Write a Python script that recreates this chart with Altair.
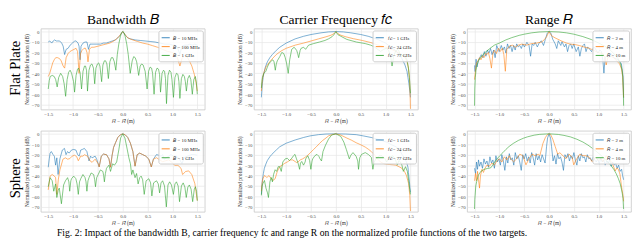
import altair as alt
import pandas as pd

COLORS = ["#1f77b4", "#ff7f0e", "#2ca02c"]
LEG_B = ["𝐵 = 10 MHz", "𝐵 = 100 MHz", "𝐵 = 1 GHz"]
LEG_F = ["𝑓𝑐 = 1 GHz", "𝑓𝑐 = 24 GHz", "𝑓𝑐 = 77 GHz"]
LEG_R = ["𝑅 = 2 m", "𝑅 = 4 m", "𝑅 = 10 m"]
COL_TITLES = ["Bandwidth 𝐵", "Carrier Frequency 𝑓𝑐", "Range 𝑅"]
ROW_TITLES = ["Flat Plate", "Sphere"]
X_TICKS = [-1.5, -1.0, -0.5, 0.0, 0.5, 1.0, 1.5]
Y_TICKS = [0, -10, -20, -30, -40, -50, -60, -70]
CAPTION = ("Fig. 2: Impact of the bandwidth B, carrier frequency fc and range R on the "
           "normalized profile functions of the two targets.")

# ---------------- Flat plate, bandwidth ----------------
FP_B_BLUE = [(-1.5,-10),(-1.47,-9),(-1.43,-11),(-1.4,-9),(-1.37,-8),(-1.34,-9),(-1.31,-9),(-1.27,-9),
             (-1.23,-11),(-1.2,-14),(-1.17,-22),(-1.14,-17),(-1.1,-16),(-1.06,-13),(-1.01,-11),(-0.97,-9),
             (-0.94,-9),(-0.9,-11),(-0.88,-14),(-0.86,-27),(-0.84,-14),(-0.8,-11),(-0.76,-10),(-0.72,-10),
             (-0.69,-17),(-0.66,-12),(-0.62,-12),(-0.58,-12),(-0.52,-12),(-0.45,-12),(-0.39,-11),(-0.33,-11),
             (-0.27,-10),(-0.21,-9),(-0.15,-8),(-0.1,-6),(-0.06,-4),(-0.03,-2),(0,0),(0.03,-2),(0.06,-4),
             (0.1,-6),(0.15,-7),(0.25,-8),(0.35,-8.5),(0.45,-9),(0.55,-9.5),(0.65,-10),(0.75,-11),(0.85,-12),
             (0.95,-12),(1.0,-13),(1.05,-13),(1.1,-15),(1.15,-22),(1.19,-14),(1.25,-13),(1.3,-13),(1.35,-12),
             (1.4,-13),(1.45,-12),(1.5,-13)]
FP_B_ORANGE = [(-1.5,-43),(-1.47,-40),(-1.44,-35),(-1.41,-30),(-1.38,-27),(-1.35,-25),(-1.31,-25),(-1.27,-26),
               (-1.24,-28),(-1.2,-33),(-1.17,-35),(-1.14,-25),(-1.1,-21),(-1.06,-19),(-1.02,-18),(-0.98,-17),
               (-0.94,-16),(-0.91,-19),(-0.88,-40),(-0.85,-21),(-0.82,-18),(-0.78,-16),(-0.75,-16),(-0.72,-20),
               (-0.7,-29),(-0.67,-17),(-0.63,-15),(-0.58,-15),(-0.5,-14),(-0.42,-13),(-0.34,-12),(-0.26,-11),
               (-0.18,-9),(-0.1,-6),(-0.05,-3),(0,0),(0.05,-3),(0.1,-6),(0.2,-8),(0.3,-9.5),(0.4,-11),(0.5,-12),
               (0.6,-13.5),(0.7,-15),(0.8,-17),(0.9,-19),(1.0,-20),(1.05,-22),(1.1,-25),(1.15,-33),(1.19,-26),
               (1.24,-23),(1.29,-24),(1.34,-28),(1.39,-33),(1.44,-41),(1.48,-50),(1.5,-57)]
FP_B_GREEN = [(-1.5,-55),(-1.48,-47),(-1.46,-43),(-1.42,-42),(-1.38,-43),(-1.35,-46),(-1.32,-53),(-1.29,-44),
              (-1.25,-40),(-1.21,-43),(-1.18,-50),(-1.15,-62),(-1.12,-46),(-1.09,-39),(-1.06,-37),(-1.03,-40),
              (-0.99,-48),(-0.97,-58),(-0.94,-42),(-0.91,-36),(-0.89,-35),(-0.86,-39),(-0.83,-55),(-0.8,-38),
              (-0.77,-33),(-0.75,-33),(-0.73,-37),(-0.71,-57),(-0.68,-37),(-0.65,-32),(-0.62,-31),(-0.59,-35),
              (-0.565,-50),(-0.54,-35),(-0.51,-31),(-0.486,-30),(-0.46,-33),(-0.425,-48),(-0.4,-32),(-0.37,-28),
              (-0.346,-28),(-0.32,-31),(-0.29,-45),(-0.26,-29),(-0.23,-25),(-0.2,-25),(-0.17,-29),(-0.14,-37),
              (-0.11,-22),(-0.08,-12),(-0.05,-5),(-0.025,-1),(0,0),(0.025,-1),(0.05,-5),(0.08,-12),(0.11,-22),
              (0.15,-40),(0.19,-28),(0.22,-24),(0.25,-25),(0.28,-29),(0.32,-42),(0.35,-33),(0.38,-31),(0.41,-32),
              (0.45,-38),(0.49,-55),(0.52,-38),(0.55,-34),(0.58,-35),(0.6,-40),(0.63,-60),(0.66,-39),(0.69,-35),
              (0.72,-36),(0.74,-41),(0.76,-58),(0.79,-40),(0.82,-37),(0.84,-38),(0.86,-45),(0.88,-69),(0.91,-42),
              (0.94,-37),(0.97,-39),(0.99,-46),(1.02,-63),(1.05,-44),(1.08,-40),(1.11,-41),(1.13,-48),(1.15,-64),
              (1.18,-45),(1.21,-41),(1.24,-43),(1.26,-48),(1.28,-57),(1.31,-45),(1.34,-42),(1.37,-46),(1.4,-60),
              (1.43,-46),(1.46,-43),(1.48,-48),(1.5,-60)]

# ---------------- Flat plate, carrier frequency ----------------
FP_F_BLUE = [(-1.5,-63),(-1.49,-56),(-1.48,-50),(-1.465,-44),(-1.45,-40),(-1.42,-34),(-1.38,-29),(-1.33,-25),
             (-1.28,-22),(-1.2,-18),(-1.13,-15),(-1.0,-11),(-0.82,-7),(-0.65,-4.5),(-0.5,-2.8),(-0.3,-1.2),
             (-0.15,-0.3),(0,0),(0.15,-0.3),(0.3,-1.2),(0.5,-2.8),(0.65,-4.5),(0.84,-7.5),(1.0,-11),(1.08,-14),
             (1.2,-18),(1.27,-22),(1.33,-26),(1.39,-32),(1.43,-38),(1.45,-44),(1.47,-50),(1.49,-58),(1.5,-63)]
FP_F_ORANGE = [(-1.5,-57),(-1.49,-51),(-1.48,-46),(-1.46,-41),(-1.44,-38),(-1.41,-34),(-1.38,-32),(-1.3,-27),
               (-1.2,-22),(-1.1,-18.5),(-1.0,-16),(-0.82,-13),(-0.65,-11),(-0.5,-9),(-0.35,-7),(-0.2,-5),
               (-0.1,-3.5),(-0.04,-2),(0,0),(0.04,-2),(0.1,-3.5),(0.2,-5),(0.35,-6.8),(0.53,-8.5),(0.7,-10.5),
               (0.84,-12.8),(1.0,-15),(1.14,-17.5),(1.25,-20),(1.33,-22.5),(1.39,-25),(1.43,-28),(1.46,-35),
               (1.48,-45),(1.49,-55),(1.5,-74)]
FP_F_GREEN = [(-1.5,-54),(-1.49,-48),(-1.48,-44),(-1.45,-40),(-1.41,-38),(-1.38,-34),(-1.35,-31),(-1.32,-29),
              (-1.27,-27),(-1.245,-29),(-1.22,-37),(-1.2,-31),(-1.18,-28),(-1.13,-24),(-1.09,-20),(-1.05,-21),
              (-1.02,-25),(-0.99,-31),(-0.96,-40),(-0.93,-27),(-0.89,-17),(-0.84,-15),(-0.79,-18),(-0.77,-21),
              (-0.75,-25),(-0.72,-18),(-0.7,-16),(-0.65,-15),(-0.61,-17),(-0.58,-15),(-0.55,-13),(-0.45,-11.5),
              (-0.33,-10),(-0.22,-8.5),(-0.15,-7),(-0.08,-5),(-0.04,-3),(0,0),(0.04,-3),(0.1,-4.5),(0.22,-7.5),
              (0.41,-10),(0.59,-11.5),(0.7,-13),(0.77,-14.5),(0.84,-17),(0.9,-19),(0.96,-17),(1.02,-16),
              (1.06,-18),(1.1,-23),(1.13,-33),(1.16,-24),(1.2,-19),(1.24,-17),(1.27,-19),(1.31,-24),(1.36,-22),
              (1.4,-24),(1.43,-27),(1.46,-35),(1.48,-44),(1.5,-59)]

# ---------------- Flat plate, range ----------------
FP_R_BLUE = [(-1.5,-32.4),(-1.488,-38.3),(-1.469,-26.5),(-1.45,-33.9),(-1.426,-28),(-1.395,-25),(-1.364,-22.1),
             (-1.333,-25),(-1.302,-19.2),(-1.271,-23.6),(-1.24,-17.7),(-1.209,-20.6),(-1.178,-16.2),(-1.147,-22.1),
             (-1.116,-17.7),(-1.085,-25),(-1.054,-13.3),(-1.004,-19.2),(-0.961,-13.3),(-0.93,-17.7),(-0.899,-14.7),
             (-0.868,-20.6),(-0.837,-11.8),(-0.806,-16.2),(-0.775,-13.3),(-0.744,-19.2),(-0.713,-13.3),
             (-0.682,-17.7),(-0.651,-11.8),(-0.62,-14.7),(-0.589,-13.3),(-0.558,-16.2),(-0.527,-11.8),
             (-0.496,-14.7),(-0.446,-10.3),(-0.403,-13.3),(-0.372,-23.6),(-0.341,-11.8),(-0.31,-13.3),
             (-0.279,-10.3),(-0.236,-14.7),(-0.198,-10.9),(-0.155,-8.8),(-0.112,-13.3),(-0.074,-7.4),
             (-0.037,-1.5),(0,0),(0.037,-1.5),(0.074,-7.4),(0.124,-11.8),(0.155,-16.2),(0.186,-8.8),
             (0.236,-13.3),(0.26,-9.7),(0.31,-14.7),(0.341,-11.8),(0.372,-19.2),(0.403,-13.3),(0.434,-11.8),
             (0.465,-16.2),(0.496,-11.8),(0.546,-19.2),(0.589,-14.7),(0.62,-23.6),(0.651,-16.2),(0.682,-13.3),
             (0.713,-11.8),(0.744,-19.2),(0.775,-14.7),(0.806,-16.2),(0.856,-19.2),(0.899,-14.7),(0.93,-16.2),
             (0.98,-20.6),(1.023,-17.7),(1.054,-19.2),(1.085,-28),(1.104,-39.8),(1.128,-25),(1.178,-22.1),
             (1.24,-20.6),(1.302,-25),(1.364,-26.5),(1.413,-28),(1.457,-31),(1.488,-42.8),(1.5,-63.4)]
FP_R_ORANGE = [(-1.5,-46),(-1.48,-37),(-1.46,-30),(-1.43,-28),(-1.4,-25),(-1.37,-27),(-1.34,-23),(-1.31,-25),
               (-1.28,-21),(-1.25,-22),(-1.22,-20),(-1.19,-26),(-1.16,-35),(-1.13,-21),(-1.1,-18),(-1.06,-21),
               (-1.02,-16),(-0.98,-19),(-0.94,-16),(-0.91,-22),(-0.88,-38),(-0.85,-17),(-0.8,-14),(-0.74,-13),
               (-0.68,-15),(-0.62,-13),(-0.55,-12),(-0.45,-13),(-0.35,-11.5),(-0.25,-11),(-0.15,-10),(-0.1,-8),
               (-0.05,-5),(0,0),(0.05,-4),(0.12,-6),(0.25,-9),(0.35,-11),(0.43,-12),(0.53,-12.5),(0.62,-13.5),
               (0.72,-15),(0.81,-16),(0.9,-18),(0.96,-19.5),(1.02,-20.5),(1.08,-21),(1.12,-24),(1.15,-32),
               (1.18,-25),(1.24,-23.6),(1.3,-25),(1.36,-28),(1.42,-31),(1.46,-36),(1.48,-43),(1.5,-63)]
FP_R_GREEN = [(-1.5,-71),(-1.495,-55),(-1.485,-44),(-1.47,-37),(-1.45,-32),(-1.42,-28),(-1.38,-25),(-1.3,-20.5),
              (-1.2,-16.5),(-1.1,-13),(-1.0,-11),(-0.87,-8),(-0.75,-5.8),(-0.6,-3.6),(-0.5,-2.5),(-0.35,-1.2),
              (-0.2,-0.4),(0,0),(0.2,-0.4),(0.35,-1.2),(0.5,-2.5),(0.68,-4.8),(0.85,-7.6),(1.0,-11),(1.12,-14),
              (1.24,-18),(1.32,-22),(1.39,-26),(1.44,-31),(1.47,-37),(1.485,-44),(1.495,-55),(1.5,-71)]

# ---------------- Sphere, bandwidth ----------------
SP_B_BLUE = [(-1.5,-32),(-1.48,-24),(-1.463,-18.5),(-1.438,-17),(-1.401,-20),(-1.377,-21.4),(-1.352,-30),
             (-1.327,-23),(-1.302,-39),(-1.265,-24),(-1.216,-15.5),(-1.173,-14),(-1.142,-20),(-1.111,-17),
             (-1.08,-18.5),(-1.031,-15.5),(-0.988,-15),(-0.944,-15.5),(-0.907,-20),(-0.877,-21.4),(-0.846,-15.5),
             (-0.815,-15),(-0.772,-14),(-0.722,-17),(-0.679,-26),(-0.648,-21.4),(-0.617,-23),(-0.556,-21.4),
             (-0.525,-24.3),(-0.475,-31.7),(-0.432,-21.4),(-0.389,-19.4),(-0.327,-20),(-0.278,-24),(-0.247,-32),
             (-0.216,-21),(-0.185,-13),(-0.146,-8.5),(-0.1,-3.5),(-0.05,-1),(0,0),(0.05,-1),(0.1,-3.5),
             (0.154,-9),(0.204,-17),(0.247,-31),(0.29,-20),(0.34,-18.5),(0.401,-19.9),(0.463,-21.4),
             (0.525,-24.3),(0.574,-31.7),(0.617,-24.3),(0.679,-19.9),(0.741,-20.8),(0.772,-21.4),(0.802,-19.9),
             (0.833,-24.3),(0.883,-22.9),(0.926,-21.4),(0.969,-19.9),(1.019,-21.4),(1.08,-21.4),(1.142,-24.3),
             (1.191,-28.7),(1.235,-22.9),(1.296,-21.4),(1.389,-19.9),(1.45,-20),(1.5,-20.5)]
SP_B_ORANGE = [(-1.5,-53.7),(-1.463,-40.5),(-1.42,-39),(-1.377,-40.5),(-1.352,-42),(-1.327,-58),(-1.296,-43.4),
               (-1.265,-34.6),(-1.204,-24.3),(-1.154,-23),(-1.111,-24.3),(-1.068,-23.8),(-1.019,-21.4),
               (-0.969,-20.5),(-0.926,-22),(-0.895,-25.8),(-0.846,-21.4),(-0.802,-21.4),(-0.772,-20),
               (-0.71,-21.4),(-0.66,-25.8),(-0.617,-27.3),(-0.556,-24.3),(-0.494,-28.7),(-0.475,-31.7),
               (-0.432,-21.4),(-0.389,-19.4),(-0.327,-20),(-0.278,-24),(-0.247,-32),(-0.216,-21),(-0.185,-13),
               (-0.146,-8.5),(-0.1,-3.5),(-0.05,-1),(0,0),(0.05,-1),(0.1,-3.5),(0.154,-9),(0.204,-17),
               (0.247,-31),(0.29,-20),(0.34,-18.5),(0.401,-19.9),(0.463,-21.4),(0.525,-24.3),(0.574,-31.7),
               (0.617,-24.3),(0.679,-22.9),(0.741,-24.9),(0.802,-26.7),(0.864,-25.8),(0.926,-24.9),(0.988,-27.3),
               (1.049,-30.2),(1.111,-30.2),(1.173,-33.1),(1.204,-39),(1.265,-36.1),(1.327,-35.5),(1.389,-39),
               (1.451,-47.8),(1.5,-64)]
SP_B_GREEN = [(-1.5,-50.7),(-1.463,-42),(-1.42,-45),(-1.389,-55),(-1.352,-48),(-1.327,-61),(-1.3,-54),
              (-1.278,-52),(-1.235,-67),(-1.191,-49),(-1.154,-45),(-1.111,-42),(-1.085,-46),(-1.068,-55),
              (-1.045,-45),(-1.031,-43),(-0.988,-40.5),(-0.944,-43),(-0.92,-48),(-0.895,-58),(-0.87,-46),
              (-0.846,-43),(-0.802,-39),(-0.759,-42),(-0.74,-46),(-0.722,-55),(-0.7,-45),(-0.679,-42),
              (-0.636,-37.5),(-0.586,-39),(-0.565,-44),(-0.549,-50.7),(-0.525,-42),(-0.494,-39),(-0.451,-34.6),
              (-0.401,-36),(-0.385,-40),(-0.37,-46),(-0.35,-38),(-0.327,-33),(-0.278,-30),(-0.247,-36),
              (-0.204,-28.7),(-0.167,-30),(-0.123,-27),(-0.08,-15.5),(-0.043,-4),(0,0),(0.043,-4),(0.08,-12.6),
              (0.123,-23),(0.154,-28.7),(0.179,-39),(0.204,-34.6),(0.247,-42),(0.278,-38),(0.309,-48),(0.34,-42),
              (0.37,-40.5),(0.4,-44),(0.432,-58),(0.47,-45),(0.525,-43),(0.56,-47),(0.586,-59.5),(0.62,-47),
              (0.679,-45),(0.715,-48),(0.741,-56.6),(0.77,-47),(0.802,-45),(0.84,-50),(0.877,-70),(0.91,-49),
              (0.944,-46),(0.98,-49),(1.019,-58),(1.05,-48),(1.08,-46),(1.115,-50),(1.142,-65),(1.18,-50),
              (1.216,-47),(1.25,-51),(1.278,-61),(1.31,-51),(1.34,-49),(1.375,-53),(1.407,-65),(1.44,-53),
              (1.463,-50.7),(1.485,-55),(1.5,-64)]

# ---------------- Sphere, carrier frequency ----------------
SP_F_BLUE = [(-1.5,-58),(-1.49,-50),(-1.48,-44.7),(-1.46,-38),(-1.44,-33),(-1.41,-29),(-1.38,-25.6),(-1.33,-22),
             (-1.29,-19.7),(-1.2,-15.5),(-1.13,-12.4),(-1.0,-9),(-0.82,-5.9),(-0.65,-3.5),(-0.52,-2),(-0.35,-0.8),
             (-0.2,-0.2),(0,0),(0.2,-0.2),(0.41,-0.8),(0.55,-2),(0.71,-3.5),(0.87,-5.5),(1.02,-8),(1.12,-10.5),
             (1.21,-12.4),(1.28,-15.5),(1.33,-19.7),(1.38,-23),(1.42,-27),(1.45,-32),(1.46,-37),(1.48,-46),
             (1.49,-52),(1.5,-56)]
SP_F_ORANGE = [(-1.5,-55),(-1.485,-47),(-1.469,-43),(-1.438,-40),(-1.41,-41),(-1.389,-41.8),(-1.346,-40),
               (-1.303,-43),(-1.266,-44.7),(-1.223,-43),(-1.18,-36),(-1.131,-31.5),(-1.08,-30),(-1.039,-28.5),
               (-0.98,-27),(-0.916,-25),(-0.87,-25),(-0.824,-26.5),(-0.79,-27.5),(-0.762,-27),(-0.72,-25),
               (-0.67,-24),(-0.62,-22.5),(-0.578,-21),(-0.516,-18.2),(-0.45,-15),(-0.393,-12.4),(-0.33,-9.2),
               (-0.27,-6.5),(-0.2,-4),(-0.148,-2),(-0.07,-0.6),(0,0),(0.098,-1.2),(0.221,-4.1),(0.31,-6),
               (0.406,-8.5),(0.5,-10.5),(0.59,-12.7),(0.66,-15),(0.713,-17),(0.774,-20),(0.836,-24),(0.897,-27),
               (0.959,-28.5),(1.02,-29),(1.082,-29.4),(1.15,-29.7),(1.205,-30),(1.27,-31.5),(1.328,-33),
               (1.38,-36),(1.42,-40),(1.463,-47.6),(1.487,-59),(1.5,-74)]
SP_F_GREEN = [(-1.5,-59),(-1.485,-50),(-1.469,-47.6),(-1.438,-44.7),(-1.408,-52),(-1.377,-56.5),(-1.358,-61),
              (-1.328,-46),(-1.303,-41.8),(-1.278,-46),(-1.254,-38.8),(-1.223,-34.4),(-1.192,-36),(-1.162,-31.5),
              (-1.131,-31.5),(-1.1,-36),(-1.069,-27),(-1.02,-24),(-0.977,-23.5),(-0.934,-25.6),(-0.897,-24),
              (-0.854,-21),(-0.824,-19.7),(-0.793,-24),(-0.762,-28),(-0.731,-34),(-0.713,-28),(-0.688,-26.5),
              (-0.652,-30),(-0.62,-27),(-0.608,-24),(-0.565,-21),(-0.529,-25.6),(-0.504,-34),(-0.48,-26),
              (-0.467,-24),(-0.424,-21),(-0.381,-19.7),(-0.344,-21.5),(-0.32,-24),(-0.29,-26),(-0.26,-17),
              (-0.209,-10.9),(-0.148,-5),(-0.086,-1.2),(0,0),(0.098,-2.5),(0.16,-8),(0.21,-15),(0.27,-24),
              (0.3,-20.5),(0.344,-18),(0.406,-21.5),(0.44,-26),(0.455,-34),(0.48,-23),(0.516,-19.7),(0.59,-18),
              (0.652,-19.7),(0.713,-22.6),(0.744,-34),(0.77,-27),(0.805,-24),(0.867,-21),(0.928,-21),(0.99,-24),
              (1.02,-27),(1.05,-25),(1.082,-22.6),(1.143,-21),(1.192,-24),(1.235,-30),(1.266,-25.6),(1.3,-27),
              (1.328,-30),(1.358,-36),(1.401,-31.5),(1.438,-36),(1.463,-44.7),(1.487,-53.5),(1.5,-58)]

# ---------------- Sphere, range ----------------
SP_R_BLUE_X = [-1.5,-1.48,-1.46,-1.44,-1.42,-1.4,-1.37,-1.34,-1.31,-1.28,-1.25,-1.22,-1.19,-1.16,-1.13,-1.1,
               -1.07,-1.04,-1.01,-0.98,-0.95,-0.92,-0.89,-0.86,-0.83,-0.8,-0.77,-0.74,-0.71,-0.68,-0.65,-0.62,
               -0.59,-0.56,-0.53,-0.5,-0.47,-0.44,-0.41,-0.38,-0.35,-0.32,-0.29,-0.26,-0.23,-0.2,-0.17,-0.14,
               -0.11,-0.08,-0.05,-0.03,0,0.03,0.05,0.08,0.11,0.14,0.17,0.2,0.23,0.26,0.29,0.32,0.35,0.38,0.41,
               0.44,0.47,0.5,0.53,0.56,0.59,0.62,0.65,0.68,0.71,0.74,0.77,0.8,0.83,0.86,0.89,0.92,0.95,0.98,
               1.01,1.04,1.07,1.1,1.13,1.16,1.19,1.22,1.25,1.28,1.31,1.34,1.37,1.4,1.43,1.46,1.48,1.5]
SP_R_BLUE_Y = [-33,-38,-27,-34,-25,-31,-27,-33,-24,-29,-26,-32,-22,-28,-25,-33,-21,-27,-24,-30,
               -20,-26,-35,-22,-28,-19,-25,-23,-30,-18,-24,-21,-27,-35,-20,-24,-19,-26,-22,-28,
               -18,-23,-30,-19,-25,-21,-27,-20,-24,-28,-12,-4,0,-4,-12,-26,-21,-29,-19,-24,
               -22,-27,-35,-20,-23,-19,-26,-21,-24,-18,-25,-30,-21,-26,-19,-23,-22,-27,-20,-24,
               -23,-26,-22,-25,-27,-24,-29,-23,-27,-25,-30,-26,-28,-25,-31,-27,-30,-28,-33,-30,
               -36,-34,-40,-44]
SP_R_ORANGE = [(-1.5,-45),(-1.48,-38),(-1.46,-45),(-1.44,-36),(-1.42,-44),(-1.4,-52),(-1.38,-40),(-1.35,-34),
               (-1.32,-37),(-1.29,-33),(-1.25,-30),(-1.2,-31),(-1.15,-28),(-1.1,-30),(-1.05,-26),(-1.0,-24),
               (-0.95,-27),(-0.9,-22),(-0.85,-25),(-0.8,-21),(-0.775,-23.9),(-0.713,-26.8),(-0.651,-23.9),
               (-0.589,-19.5),(-0.527,-21),(-0.465,-29.7),(-0.403,-23.9),(-0.341,-19.5),(-0.279,-21),
               (-0.217,-19.5),(-0.186,-21),(-0.124,-9.3),(-0.074,-3.5),(-0.031,-0.6),(0,0),(0.031,-0.6),
               (0.074,-5),(0.124,-12.2),(0.174,-19.5),(0.217,-18.1),(0.279,-21),(0.341,-23.9),(0.403,-19.5),
               (0.465,-22.4),(0.496,-29.7),(0.558,-23.9),(0.62,-19.5),(0.682,-21),(0.744,-21),(0.806,-22.4),
               (0.868,-26.8),(0.93,-22.4),(0.992,-25.4),(1.054,-24),(1.085,-26.8),(1.147,-21),(1.209,-23.9),
               (1.271,-28.3),(1.333,-35.5),(1.364,-32.7),(1.395,-34.1),(1.426,-38.5),(1.457,-50),(1.488,-59),
               (1.5,-64.7)]
SP_R_GREEN = [(-1.5,-72),(-1.495,-63),(-1.488,-58.9),(-1.475,-50),(-1.457,-45.8),(-1.426,-40),(-1.395,-37.5),
              (-1.364,-35.6),(-1.302,-34),(-1.24,-33.2),(-1.178,-32.7),(-1.14,-30.5),(-1.116,-28.3),(-1.054,-24.5),
              (-0.992,-21),(-0.93,-18.1),(-0.87,-15),(-0.806,-12.2),(-0.72,-9.2),(-0.62,-6.4),(-0.52,-4.3),
              (-0.434,-2.9),(-0.3,-1.3),(-0.186,-0.5),(0,0),(0.186,-0.6),(0.3,-1.5),(0.434,-3),(0.56,-5.2),
              (0.682,-7.9),(0.78,-10.7),(0.868,-13.7),(0.96,-17.2),(1.054,-21),(1.12,-24),(1.178,-26.8),
              (1.24,-30),(1.302,-34),(1.35,-38),(1.395,-42.9),(1.43,-47.5),(1.457,-53),(1.475,-57.5),
              (1.488,-61.8),(1.5,-72)]

PANELS = [
    ("fp_b", LEG_B, [FP_B_BLUE, FP_B_ORANGE, FP_B_GREEN]),
    ("fp_f", LEG_F, [FP_F_BLUE, FP_F_ORANGE, FP_F_GREEN]),
    ("fp_r", LEG_R, [FP_R_BLUE, FP_R_ORANGE, FP_R_GREEN]),
    ("sp_b", LEG_B, [SP_B_BLUE, SP_B_ORANGE, SP_B_GREEN]),
    ("sp_f", LEG_F, [SP_F_BLUE, SP_F_ORANGE, SP_F_GREEN]),
    ("sp_r", LEG_R, [list(zip(SP_R_BLUE_X, SP_R_BLUE_Y)), SP_R_ORANGE, SP_R_GREEN]),
]

rows = []
for pid, labels, series in PANELS:
    for lab, pts in zip(labels, series):
        for i, (xv, yv) in enumerate(pts):
            rows.append({"panel": pid, "series": lab, "x": xv, "y": yv, "i": i})
df = pd.DataFrame(rows)

W, H = 170, 84
SERIF = "Liberation Serif"


def panel(pid, labels, col_title=None):
    d = df[df.panel == pid]
    ch = alt.Chart(d).mark_line(strokeWidth=0.8, opacity=0.75, clip=True).encode(
        x=alt.X("x:Q", scale=alt.Scale(domain=[-1.65, 1.65], nice=False, zero=False),
                axis=alt.Axis(values=X_TICKS, format=".1f", title="𝑅 − 𝑅̂ (m)")),
        y=alt.Y("y:Q", scale=alt.Scale(domain=[-74.7, 2.9], nice=False, zero=False),
                axis=alt.Axis(values=Y_TICKS, format="d", title="Normalized profile function (dB)")),
        color=alt.Color("series:N", sort=labels,
                        scale=alt.Scale(domain=labels, range=COLORS),
                        legend=alt.Legend(title=None, orient="top-right", offset=2,
                                          symbolType="stroke", symbolSize=70,
                                          symbolStrokeWidth=1.1, symbolOpacity=0.8,
                                          labelFontSize=5, labelFont=SERIF, labelColor="#222222",
                                          fillColor="rgba(255,255,255,0.85)", strokeColor="#cccccc",
                                          padding=2.5, cornerRadius=2, rowPadding=1.2,
                                          labelOffset=3, labelLimit=80)),
        order=alt.Order("i:Q"),
    ).properties(width=W, height=H)
    if col_title:
        ch = ch.properties(title=alt.TitleParams(col_title, fontSize=14, font=SERIF,
                                                 fontWeight="normal", offset=2,
                                                 anchor="middle", color="black"))
    return ch


row1 = alt.hconcat(
    panel("fp_b", LEG_B, COL_TITLES[0]),
    panel("fp_f", LEG_F, COL_TITLES[1]),
    panel("fp_r", LEG_R, COL_TITLES[2]),
    spacing=32,
).resolve_scale(color="independent").properties(
    title=alt.TitleParams(ROW_TITLES[0], orient="left", anchor="middle", fontSize=15,
                          font=SERIF, fontWeight="normal", offset=1, color="black"))

row2 = alt.hconcat(
    panel("sp_b", LEG_B),
    panel("sp_f", LEG_F),
    panel("sp_r", LEG_R),
    spacing=32,
).resolve_scale(color="independent").properties(
    title=alt.TitleParams(ROW_TITLES[1], orient="left", anchor="middle", fontSize=15,
                          font=SERIF, fontWeight="normal", offset=1, color="black"))

chart = alt.vconcat(row1, row2, spacing=6, padding=0).resolve_scale(
    color="independent"
).properties(
    title=alt.TitleParams(CAPTION, orient="bottom", anchor="start", dx=50, fontSize=10,
                          font=SERIF, fontWeight="normal", offset=2, color="black", limit=570)
).configure_view(
    stroke="#c6c6c6", strokeWidth=0.8
).configure_axis(
    gridColor="#e6e6e6", gridWidth=0.7, domain=False, ticks=False,
    labelFontSize=5, labelColor="#444444", labelFont=SERIF, labelPadding=2,
    titleFontSize=5.5, titleColor="#333333", titleFont=SERIF, titleFontWeight="normal",
    titlePadding=2,
)

chart.save("out.html", embed_options={"renderer": "svg", "actions": False})
